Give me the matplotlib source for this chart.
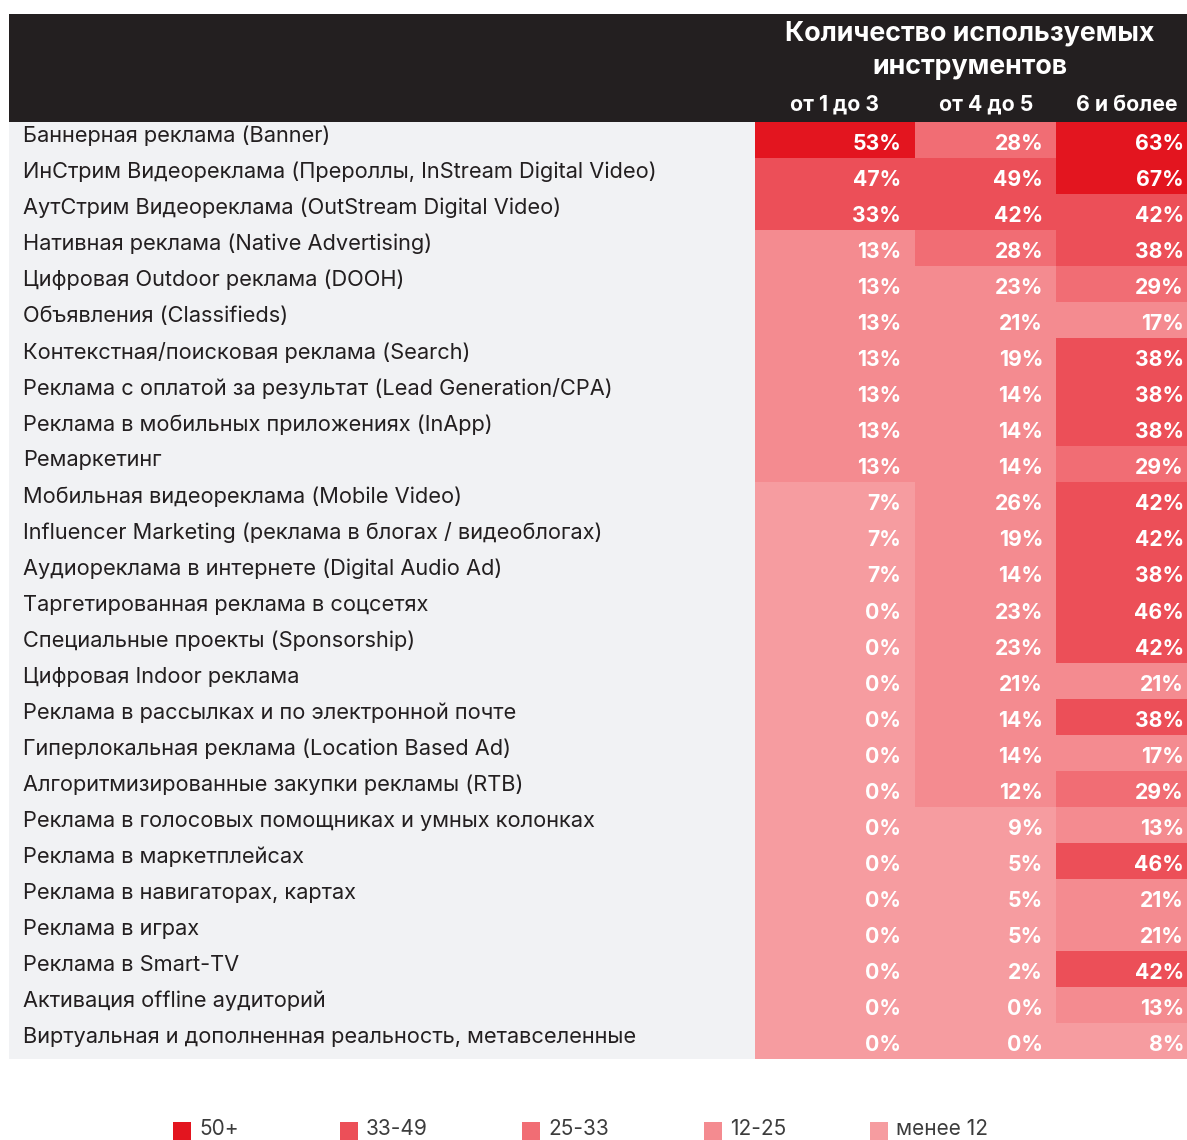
import matplotlib
matplotlib.use("Agg")
import matplotlib.pyplot as plt

plt.rcParams['font.family'] = ['Inter', 'DejaVu Sans']

categories = [
    "Баннерная реклама (Banner)",
    "ИнСтрим Видеореклама (Прероллы, InStream Digital Video)",
    "АутСтрим Видеореклама (OutStream Digital Video)",
    "Нативная реклама (Native Advertising)",
    "Цифровая Outdoor реклама (DOOH)",
    "Объявления (Classifieds)",
    "Контекстная/поисковая реклама (Search)",
    "Реклама с оплатой за результат (Lead Generation/CPA)",
    "Реклама в мобильных приложениях (InApp)",
    "Ремаркетинг",
    "Мобильная видеореклама (Mobile Video)",
    "Influencer Marketing (реклама в блогах / видеоблогах)",
    "Аудиореклама в интернете (Digital Audio Ad)",
    "Таргетированная реклама в соцсетях",
    "Специальные проекты (Sponsorship)",
    "Цифровая Indoor реклама",
    "Реклама в рассылках и по электронной почте",
    "Гиперлокальная реклама (Location Based Ad)",
    "Алгоритмизированные закупки рекламы (RTB)",
    "Реклама в голосовых помощниках и умных колонках",
    "Реклама в маркетплейсах",
    "Реклама в навигаторах, картах",
    "Реклама в играх",
    "Реклама в Smart-TV",
    "Активация offline аудиторий",
    "Виртуальная и дополненная реальность, метавселенные",
]

col_1_3 = [53, 47, 33, 13, 13, 13, 13, 13, 13, 13, 7, 7, 7, 0, 0, 0, 0, 0, 0, 0, 0, 0, 0, 0, 0, 0]
col_4_5 = [28, 49, 42, 28, 23, 21, 19, 14, 14, 14, 26, 19, 14, 23, 23, 21, 14, 14, 12, 9, 5, 5, 5, 2, 0, 0]
col_6p = [63, 67, 42, 38, 29, 17, 38, 38, 38, 29, 42, 42, 38, 46, 42, 21, 38, 17, 29, 13, 46, 21, 21, 42, 13, 8]

column_labels = ["от 1 до 3", "от 4 до 5", "6 и более"]
header_title = ["Количество используемых", "инструментов"]
legend_labels = ["50+", "33-49", "25-33", "12-25", "менее 12"]
legend_colors = ["#E3151F", "#EC4F58", "#F16D74", "#F48B90", "#F69CA0"]

def cell_color(v):
    if v >= 50:
        return legend_colors[0]
    if v >= 33:
        return legend_colors[1]
    if v >= 27:
        return legend_colors[2]
    if v >= 12:
        return legend_colors[3]
    return legend_colors[4]

W, H = 1187, 1140
fig = plt.figure(figsize=(W / 100, H / 100), dpi=100)
ax = fig.add_axes([0, 0, 1, 1])
ax.set_xlim(0, W)
ax.set_ylim(H, 0)
ax.axis('off')

top_hdr, top_tab, bot_tab = 14, 122, 1059
left = 9
col_edges = [755, 915, 1056, 1187]
text_right = [901, 1043, 1184]
n = len(categories)
rh = (bot_tab - top_tab) / n

# header band
ax.add_patch(plt.Rectangle((left, top_hdr), W - left, top_tab - top_hdr, color="#231F20", lw=0))
# label background
ax.add_patch(plt.Rectangle((left, top_tab), col_edges[0] - left, bot_tab - top_tab, color="#F1F2F4", lw=0))

hx = (col_edges[0] + col_edges[3]) / 2 - 1
ax.text(hx, 33, header_title[0], color="white", fontsize=19.3,
        fontweight="bold", ha="center", va="center")
ax.text(hx, 67, header_title[1], color="white", fontsize=19.3,
        fontweight="bold", ha="center", va="center")
centers = [835, 986, 1127]
for c, lab in zip(centers, column_labels):
    ax.text(c, 105, lab, color="white", fontsize=15.3, fontweight="bold", ha="center", va="center")

cols = [col_1_3, col_4_5, col_6p]
for j, vals in enumerate(cols):
    x0, x1 = col_edges[j], col_edges[j + 1]
    tops = [top_tab + i * rh for i in range(n)]
    ax.bar([x0] * n, [rh] * n, width=x1 - x0, bottom=tops, align='edge',
           color=[cell_color(v) for v in vals], linewidth=0)
    for i, v in enumerate(vals):
        ax.text(text_right[j], tops[i] + rh / 2 + 4, f"{v}%", color="white", fontsize=15.3,
                fontweight="bold", ha="right", va="center")

for i, lab in enumerate(categories):
    ax.text(23, top_tab + i * rh + rh / 2 - 4, lab, color="#231F20", fontsize=15.7,
            ha="left", va="center")

leg_x = [173, 340, 522, 704, 870]
for x, lab, c in zip(leg_x, legend_labels, legend_colors):
    ax.add_patch(plt.Rectangle((x, 1122), 18, 22, color=c, lw=0))
    ax.text(x + 26, 1139, lab, color="#3C3C3C", fontsize=15, ha="left", va="bottom")

fig.savefig("out.png", dpi=100, facecolor="white")
